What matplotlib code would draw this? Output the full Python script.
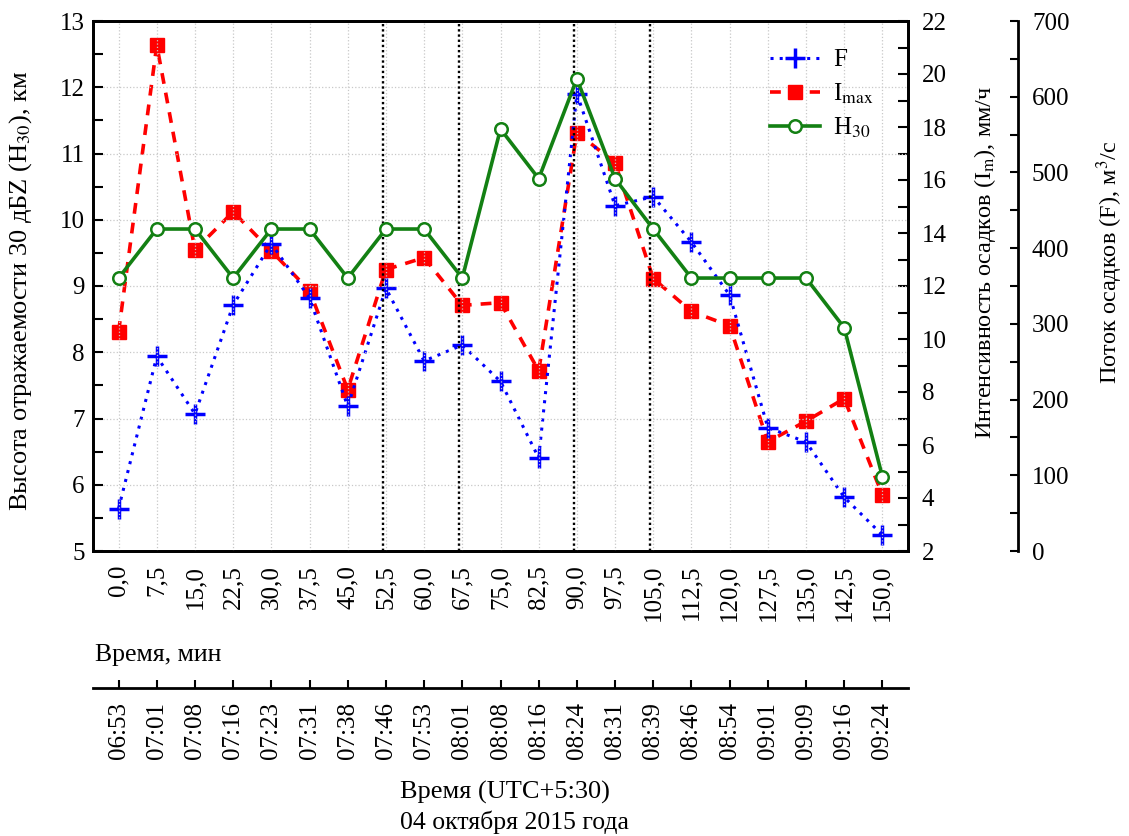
import numpy as np
import matplotlib
matplotlib.use("Agg")
from matplotlib import pyplot as plt
from matplotlib.ticker import MultipleLocator

plt.rcParams['font.family'] = ['Liberation Serif', 'DejaVu Serif']
plt.rcParams['mathtext.fontset'] = 'stix'

# time axis labels
minutes = ['0,0', '7,5', '15,0', '22,5', '30,0', '37,5', '45,0', '52,5', '60,0', '67,5', '75,0',
           '82,5', '90,0', '97,5', '105,0', '112,5', '120,0', '127,5', '135,0', '142,5', '150,0']
local_time = ['06:53', '07:01', '07:08', '07:16', '07:23', '07:31', '07:38', '07:46', '07:53', '08:01',
              '08:08', '08:16', '08:24', '08:31', '08:39', '08:46', '08:54', '09:01', '09:09', '09:16', '09:24']

# series
h30 = [9.12, 9.86, 9.86, 9.12, 9.86, 9.86, 9.12, 9.86, 9.86, 9.12, 11.37,
       10.62, 12.13, 10.62, 9.86, 9.12, 9.12, 9.12, 9.12, 8.37, 6.12]
i_max = [10.27, 21.09, 13.36, 14.80, 13.32, 11.82, 8.09, 12.62, 13.07, 11.27, 11.37,
         8.80, 17.79, 16.65, 12.28, 11.04, 10.50, 6.12, 6.90, 7.75, 4.11]
flux = [56, 257, 181, 325, 406, 334, 191, 347, 251, 272, 224,
        123, 604, 456, 468, 408, 338, 163, 144, 71, 21]

# boundaries of stages, in minutes index
stage_lines = [7, 9, 12, 14]

x = np.arange(len(minutes))

fig = plt.figure(figsize=(11.29, 8.36), dpi=100)
L, B, W, H = 93 / 1129, 285 / 836, 815 / 1129, 530 / 836
ax = fig.add_axes([L, B, W, H])
ax2 = ax.twinx()
ax3 = ax.twinx()

grid_kw = dict(color='#c8c8c8', ls=':', lw=0.9)
for xi in x:
    ax.axvline(xi, zorder=0, **grid_kw)
for yi in range(6, 13):
    ax.axhline(yi, zorder=0, **grid_kw)
for xs in stage_lines:
    ax.axvline(xs - 0.08, color='black', ls=(0, (1, 1.2)), lw=1.7, zorder=1)

lf, = ax3.plot(x, flux, color='blue', ls=(0, (1, 2)), lw=2.2, marker='+', ms=15, mew=2.5, label='F')
li, = ax2.plot(x, i_max, color='red', ls=(0, (3, 2.5)), lw=2.6, marker='s', ms=10, label=r'I$_{\mathrm{max}}$')
lh, = ax.plot(x, h30, color='#138013', lw=2.6, marker='o', ms=9, mfc='white', mew=1.8, label=r'H$_{30}$')

# draw the H30 axes on top
ax.set_zorder(3)
ax.patch.set_visible(False)
ax2.set_zorder(1)
ax3.set_zorder(2)

ax.set_xlim(-0.67, 20.67)
ax.set_ylim(5, 13)
ax2.set_ylim(2, 22)
ax3.set_ylim(0, 700)

for s in ax.spines.values():
    s.set_linewidth(2)
for s in ax2.spines.values():
    s.set_linewidth(2)

ax.yaxis.set_major_locator(MultipleLocator(1))
ax.yaxis.set_minor_locator(MultipleLocator(0.5))
ax.tick_params(axis='y', which='both', direction='in', length=7, width=1.5, labelsize=18, pad=6)
ax.set_xticks(x)
ax.set_xticklabels(minutes, rotation=90, fontsize=18)
ax.tick_params(axis='x', length=0, pad=10)

ax2.yaxis.set_major_locator(MultipleLocator(2))
ax2.yaxis.set_minor_locator(MultipleLocator(1))
ax2.tick_params(axis='y', which='both', direction='in', length=7, width=1.5, labelsize=18, pad=10)

ax3.spines['right'].set_position(('axes', 1.135))
for k in ['left', 'top', 'bottom']:
    ax3.spines[k].set_visible(False)
ax3.spines['right'].set_linewidth(2)
ax3.yaxis.set_major_locator(MultipleLocator(100))
ax3.yaxis.set_minor_locator(MultipleLocator(50))
ax3.tick_params(axis='y', which='both', direction='in', length=6, width=1.5, labelsize=18, pad=10)

ax.set_ylabel(r'Высота отражаемости 30 дБZ (H$_{30}$), км', fontsize=19)
ax.yaxis.set_label_coords(-0.072, 0.49)
ax2.set_ylabel(r'Интенсивность осадков (I$_{\mathrm{m}}$), мм/ч', fontsize=17.5)
ax2.yaxis.set_label_coords(1.0785, 0.545)
ax3.set_ylabel(r'Поток осадков (F), м$^3$/с', fontsize=17.5)
ax3.yaxis.set_label_coords(1.229, 0.545)

ax.legend(handles=[lf, li, lh], loc='upper right', bbox_to_anchor=(0.985, 0.99),
          frameon=False, fontsize=18, handlelength=2.0, labelspacing=0.4, handletextpad=0.5)

# second time axis (local time)
ax4 = fig.add_axes([L, 148 / 836, W, 0.001])
ax4.patch.set_visible(False)
for k in ['left', 'top', 'right']:
    ax4.spines[k].set_visible(False)
ax4.spines['bottom'].set_linewidth(2)
ax4.set_yticks([])
ax4.set_xlim(-0.67, 20.67)
ax4.set_xticks(x)
ax4.set_xticklabels(local_time, rotation=90, fontsize=18)
ax4.tick_params(axis='x', direction='in', length=6, width=1.5, pad=10)

fig.text(95 / 1129, (836 - 655) / 836, 'Время, мин', fontsize=18.5, ha='left', va='center')
fig.text(505 / 1129, (836 - 792) / 836, 'Время (UTC+5:30)', fontsize=19, ha='center', va='center')
fig.text(515 / 1129, (836 - 822) / 836, '04 октября 2015 года', fontsize=18.5, ha='center', va='center')

fig.savefig('out.png', dpi=100)
